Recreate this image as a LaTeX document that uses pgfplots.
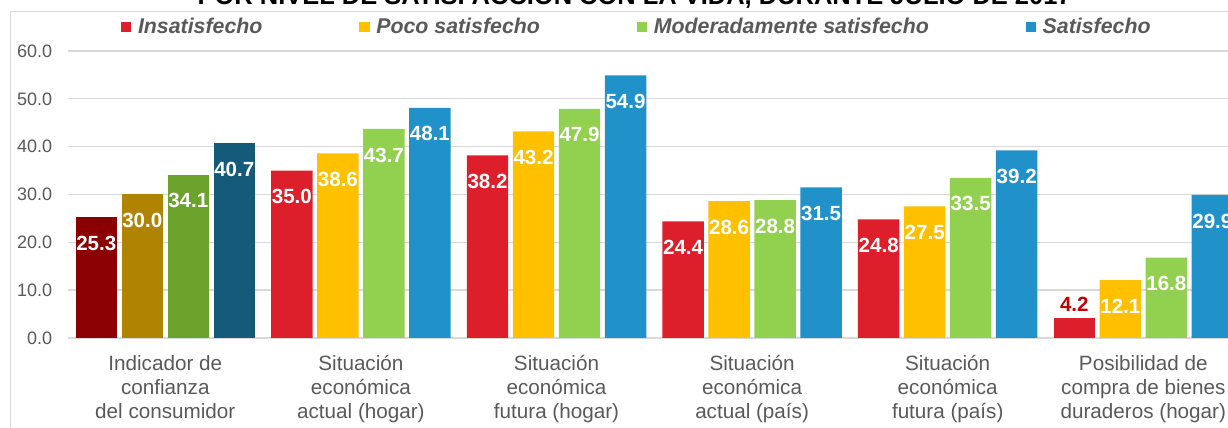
\documentclass[border=0pt]{standalone}
\usepackage{fontspec}
\setmainfont{Liberation Sans}
\usepackage{pgfplots}
\pgfplotsset{compat=1.18}

\definecolor{cred}{RGB}{220,31,42}
\definecolor{cyel}{RGB}{255,192,0}
\definecolor{cgrn}{RGB}{146,208,80}
\definecolor{cblu}{RGB}{33,145,202}
\definecolor{dred}{RGB}{139,0,0}
\definecolor{dyel}{RGB}{176,132,0}
\definecolor{dgrn}{RGB}{106,162,44}
\definecolor{dblu}{RGB}{22,90,122}
\definecolor{labred}{RGB}{192,0,0}
\definecolor{gridgray}{RGB}{217,217,217}
\definecolor{labelgray}{RGB}{89,89,89}

\begin{document}
\begin{tikzpicture}
\useasboundingbox (0,0) rectangle (921pt,321pt);
\clip (0,0) rectangle (921pt,321pt);
\draw[gridgray, line width=0.75pt] (7.5pt,-2pt) -- (7.5pt,312pt) -- (930pt,312pt);
\node[anchor=base, font=\bfseries\fontsize{19.1}{22}\selectfont] at (476pt,317.6pt)
  {POR NIVEL DE SATISFACCIÓN CON LA VIDA, DURANTE JULIO DE 2017};
\begin{axis}[
    at={(50.625pt,67.5pt)}, anchor=south west,
    scale only axis, width=870.375pt, height=215.25pt,
    xmin=-0.5, xmax=5.433, ymin=0, ymax=60,
    ybar, bar width=0.212,
    axis line style={draw=none},
    major tick length=0pt,
    ytick={0,10,...,60},
    yticklabel={\pgfmathprintnumber[fixed,fixed zerofill,precision=1,assume math mode=true]{\tick}},
    yticklabel style={font=\fontsize{13.5}{16}\selectfont, text=labelgray, xshift=-8pt},
    ymajorgrids, grid style={gridgray, line width=1pt},
    xtick={0,...,5},
    xticklabels={{Indicador de\\confianza\\del consumidor},
                 {Situación\\económica\\actual (hogar)},
                 {Situación\\económica\\futura (hogar)},
                 {Situación\\económica\\actual (país)},
                 {Situación\\económica\\futura (país)},
                 {Posibilidad de\\compra de bienes\\duraderos (hogar)}},
    xticklabel style={align=center, font=\fontsize{15.5}{18}\selectfont, text=labelgray, yshift=-9.75pt},
    nodes near coords={\pgfmathprintnumber[fixed,fixed zerofill,precision=1,assume math mode=true]{\pgfplotspointmeta}},
    every node near coord/.append style={font=\bfseries\fontsize{15.4}{18}\selectfont, text=white, anchor=center, yshift=-19.5pt},
    legend columns=4,
    legend image code/.code={\fill[#1] (0pt,-3.9pt) rectangle (7.9pt,3.9pt);},
    legend style={at={(axis description cs:0.0457,1.0836)}, anchor=west, draw=none, fill=none,
        inner sep=0pt, font=\bfseries\itshape\fontsize{16}{19}\selectfont, text=labelgray,
        /tikz/every odd column/.append style={column sep=3pt},
        /tikz/every even column/.append style={column sep=70.5pt}},
]
% first group: darker tones
\addplot[fill=dred, draw=none, bar shift=-0.3528, forget plot] coordinates {(0,25.3)};
\addplot[fill=dyel, draw=none, bar shift=-0.1176, forget plot] coordinates {(0,30.0)};
\addplot[fill=dgrn, draw=none, bar shift=0.1176, forget plot] coordinates {(0,34.1)};
\addplot[fill=dblu, draw=none, bar shift=0.3528, forget plot] coordinates {(0,40.7)};
% other groups
\addplot[fill=cred, draw=none, bar shift=-0.3528] coordinates {(1,35.0) (2,38.2) (3,24.4) (4,24.8)};
\addplot[fill=cyel, draw=none, bar shift=-0.1176] coordinates {(1,38.6) (2,43.2) (3,28.6) (4,27.5) (5,12.1)};
\addplot[fill=cgrn, draw=none, bar shift=0.1176] coordinates {(1,43.7) (2,47.9) (3,28.8) (4,33.5) (5,16.8)};
\addplot[fill=cblu, draw=none, bar shift=0.3528] coordinates {(1,48.1) (2,54.9) (3,31.5) (4,39.2) (5,29.9)};
% short bar, label above
\addplot[fill=cred, draw=none, bar shift=-0.3528, forget plot,
    every node near coord/.append style={text=labred, yshift=29.5pt}] coordinates {(5,4.2)};
\legend{Insatisfecho, Poco satisfecho, Moderadamente satisfecho, Satisfecho}
\end{axis}
\end{tikzpicture}
\end{document}
